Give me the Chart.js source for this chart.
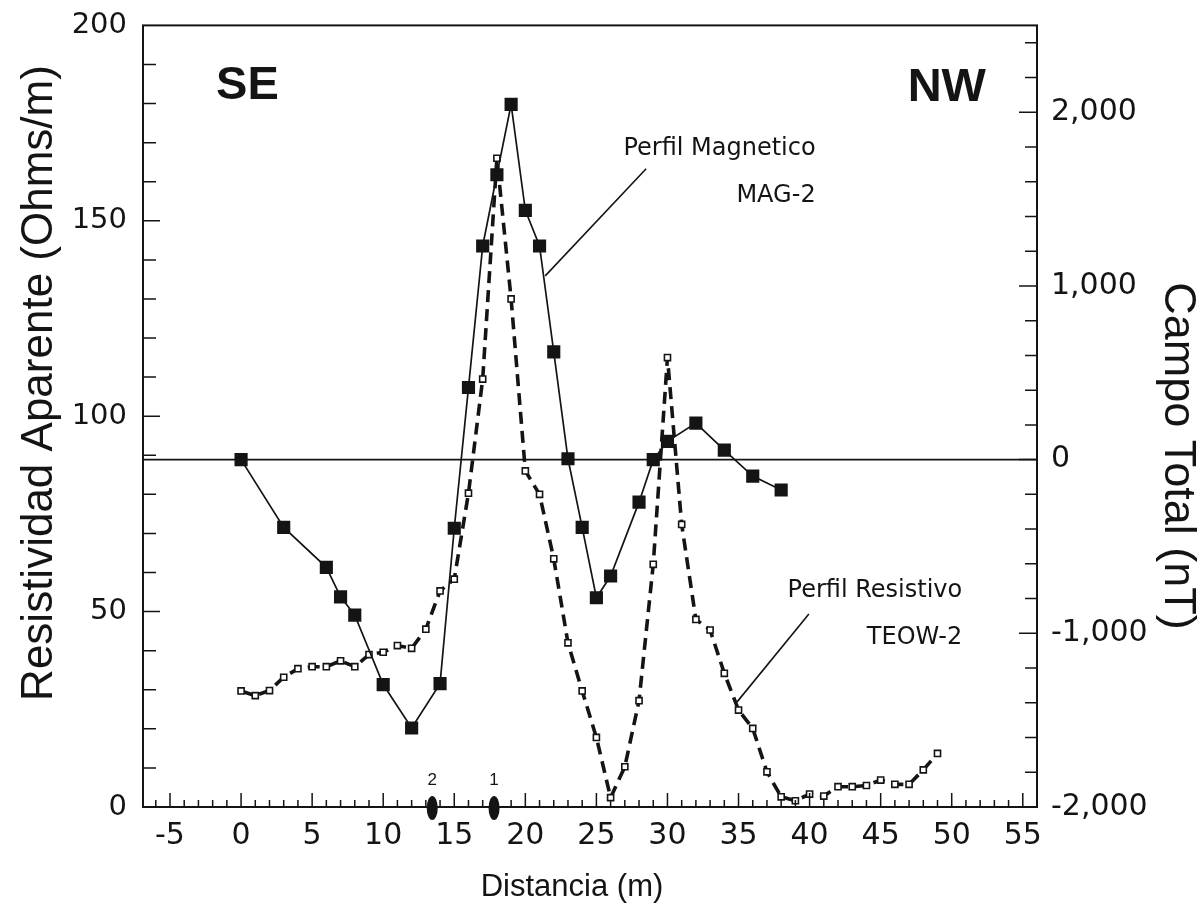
<!DOCTYPE html>
<html><head><meta charset="utf-8">
<script src="https://cdn.jsdelivr.net/npm/chart.js@4.4.0/dist/chart.umd.min.js"></script>
<style>html,body{margin:0;padding:0;background:#fff;}#wrap{width:1199px;height:918px;}</style>
</head><body><div id="wrap"><canvas id="c" width="1199" height="918"></canvas></div>
<script>
// ---- data ----
const resDistance = [0,1,2,3,4,5,6,7,8,9,10,11,12,13,14,15,16,17,18,19,20,21,22,23,24,25,26,27,28,29,30,31,32,33,34,35,36,37,38,39,40,41,42,43,44,45,46,47,48,49];
const resValues   = [29.7,28.5,29.8,33.2,35.4,35.9,35.9,37.4,35.9,39.0,39.6,41.3,40.6,45.5,55.3,58.3,80.3,109.5,166,130,86,80,63.5,42,29.7,17.8,2.4,10.3,27.2,62.1,115,72.3,48,45.3,34.2,24.8,20.1,9.0,2.6,1.6,3.3,2.8,5.2,5.2,5.5,6.9,5.8,5.8,9.5,13.7];
const magDistance = [0,3,6,7,8,10,12,14,15,16,17,18,19,20,21,22,23,24,25,26,28,29,30,32,34,36,38];
const magValues   = [0,-390,-620,-790,-895,-1295,-1545,-1290,-395,415,1230,1640,2045,1435,1230,620,5,-390,-795,-670,-245,0,105,210,55,-95,-175];
const xTickLabels   = [-5,0,5,10,15,20,25,30,35,40,45,50,55];
const resTickLabels = [0,50,100,150,200];
const magTickLabels = [-2000,-1000,0,1000,2000];
const boreholes = [{x:13.45,label:'2'},{x:17.8,label:'1'}];

// ---- layout / style (not data) ----
const AREA = {left:143, top:24, right:1037, bottom:807};
const INK = '#141414';
const TICKFONT = '"DejaVu Sans", sans-serif';
const TXTFONT = '"Liberation Sans", Arial, sans-serif';

const decor = {
  id:'decor',
  beforeDatasetsDraw(chart){
    const {ctx, chartArea:a, scales} = chart;
    const y2 = scales.y2;
    ctx.save();
    ctx.strokeStyle = INK;
    ctx.lineWidth = 1.6;
    const z = y2.getPixelForValue(0);
    ctx.beginPath(); ctx.moveTo(a.left, z); ctx.lineTo(a.right, z); ctx.stroke();
    ctx.restore();
  },
  afterDatasetsDraw(chart){
    const {ctx, chartArea:a, scales} = chart;
    const x = scales.x, y = scales.y, y2 = scales.y2;
    ctx.save();
    ctx.strokeStyle = INK; ctx.fillStyle = INK;
    ctx.lineWidth = 2;
    ctx.strokeRect(a.left, a.top, a.right - a.left, a.bottom - a.top);
    ctx.lineWidth = 1.5;
    ctx.beginPath();
    for (let v = -6; v <= 56; v++) {
      const px = x.getPixelForValue(v);
      const len = v % 5 === 0 ? 14 : 7;
      ctx.moveTo(px, a.bottom); ctx.lineTo(px, a.bottom - len);
    }
    for (let v = 10; v < 200; v += 10) {
      const py = y.getPixelForValue(v);
      const len = v % 50 === 0 ? 17 : 13;
      ctx.moveTo(a.left, py); ctx.lineTo(a.left + len, py);
    }
    for (let v = -1800; v < 2500; v += 200) {
      const py = y2.getPixelForValue(v);
      const len = v % 1000 === 0 ? 18 : 12;
      ctx.moveTo(a.right, py); ctx.lineTo(a.right - len, py);
    }
    ctx.stroke();
    boreholes.forEach(b => {
      const px = x.getPixelForValue(b.x);
      ctx.beginPath(); ctx.ellipse(px, a.bottom + 1, 5.5, 12, 0, 0, Math.PI*2); ctx.fill();
      ctx.font = '17px ' + TXTFONT; ctx.textAlign = 'center'; ctx.textBaseline = 'middle';
      ctx.fillText(b.label, px, a.bottom - 27);
    });
    ctx.font = 'bold 47px ' + TXTFONT; ctx.textBaseline = 'middle'; ctx.textAlign = 'left';
    ctx.fillText('SE', x.getPixelForValue(-1.76), y.getPixelForValue(184.5));
    ctx.fillText('NW', x.getPixelForValue(46.9), y.getPixelForValue(184));
    const lab = (t1, t2, lx, ly1, ly2, l0, l1) => {
      ctx.font = '24px ' + TICKFONT; ctx.textAlign = 'left'; ctx.textBaseline = 'middle';
      const X = x.getPixelForValue(lx);
      ctx.fillText(t1, X, y.getPixelForValue(ly1));
      const w = ctx.measureText(t1).width;
      ctx.textAlign = 'right';
      ctx.fillText(t2, X + w, y.getPixelForValue(ly2));
      ctx.lineWidth = 1.6;
      ctx.beginPath();
      ctx.moveTo(x.getPixelForValue(l0[0]), y.getPixelForValue(l0[1]));
      ctx.lineTo(x.getPixelForValue(l1[0]), y.getPixelForValue(l1[1]));
      ctx.stroke();
    };
    lab('Perfil Magnetico', 'MAG-2', 26.9, 168.5, 156.5, [28.5,163.3], [21.4,135.9]);
    lab('Perfil Resistivo', 'TEOW-2', 38.45, 55.4, 43.4, [39.95,49.4], [34.9,26.9]);
    ctx.font = '31px ' + TXTFONT; ctx.textAlign = 'center'; ctx.textBaseline = 'middle';
    ctx.fillText('Distancia (m)', 572, 887);
    ctx.save();
    ctx.translate(40, 383); ctx.rotate(-Math.PI/2);
    ctx.font = '44px ' + TXTFONT;
    ctx.fillText('Resistividad Aparente (Ohms/m)', 0, 0);
    ctx.restore();
    ctx.save();
    ctx.translate(1177, 456); ctx.rotate(Math.PI/2);
    ctx.font = '45px ' + TXTFONT;
    ctx.fillText('Campo Total (nT)', 0, 0);
    ctx.restore();
    ctx.restore();
  }
};

const toPts = (xs, ys) => xs.map((v, i) => ({x: v, y: ys[i]}));

new Chart(document.getElementById('c'), {
  type: 'line',
  data: {
    datasets: [
      {
        label: 'Perfil Magnetico MAG-2',
        data: toPts(magDistance, magValues),
        yAxisID: 'y2', order: 0,
        borderColor: INK, borderWidth: 1.7,
        pointStyle: 'rect', pointRadius: 9.3,
        pointBackgroundColor: INK, pointBorderColor: INK, pointBorderWidth: 0,
        tension: 0, fill: false
      },
      {
        label: 'Perfil Resistivo TEOW-2',
        data: toPts(resDistance, resValues),
        yAxisID: 'y', order: 1,
        borderColor: INK, borderWidth: 3.6, borderDash: [12, 7],
        pointStyle: 'rect', pointRadius: 4.3,
        pointBackgroundColor: '#fff', pointBorderColor: INK, pointBorderWidth: 1.6,
        tension: 0, fill: false
      }
    ]
  },
  options: {
    responsive: false, animation: false, devicePixelRatio: 1,
    layout: {padding: {top: AREA.top, left: 0, right: 0, bottom: 0}},
    plugins: {legend: {display: false}, tooltip: {enabled: false}},
    scales: {
      x: {
        type: 'linear', position: 'bottom', min: -6.9, max: 56,
        grid: {display: false}, border: {display: false},
        afterBuildTicks: s => { s.ticks = xTickLabels.map(v => ({value: v})); },
        afterFit: s => { s.height = 918 - AREA.bottom; },
        ticks: {color: INK, font: {family: TICKFONT, size: 30}, padding: 3, maxRotation: 0, autoSkip: false}
      },
      y: {
        type: 'linear', position: 'left', min: 0, max: 200,
        grid: {display: false}, border: {display: false},
        afterBuildTicks: s => { s.ticks = resTickLabels.map(v => ({value: v})); },
        afterFit: s => { s.width = AREA.left; },
        ticks: {color: INK, font: {family: TICKFONT, size: 29}, padding: 8}
      },
      y2: {
        type: 'linear', position: 'right', min: -2000, max: 2500,
        grid: {display: false}, border: {display: false},
        afterBuildTicks: s => { s.ticks = magTickLabels.map(v => ({value: v})); },
        afterFit: s => { s.width = 1199 - AREA.right; },
        ticks: {color: INK, font: {family: TICKFONT, size: 30}, padding: 6,
                callback: v => v.toLocaleString('en-US')}
      }
    }
  },
  plugins: [decor]
});
</script></body></html>
